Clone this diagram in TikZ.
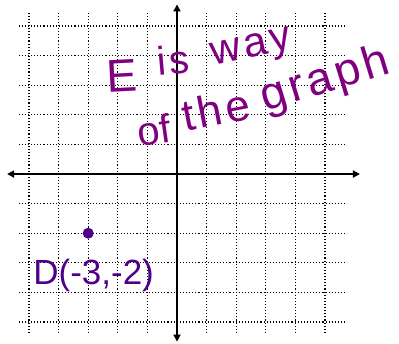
\documentclass[tikz,border=0pt]{standalone}
\usepackage{fontspec}
\setmainfont{Liberation Sans}
\usepackage{xcolor}
\usepackage{tikz}
\usetikzlibrary{arrows.meta}
\definecolor{tinta}{RGB}{128,0,128}
\definecolor{tintaD}{RGB}{78,0,138}
\newcommand{\letrasz}[1]{\fontsize{#1}{#1}\selectfont\addfontfeatures{LetterSpace=8}}
\tikzset{
  rejilla/.style={black,dotted,line width=1.1pt},
  ejes/.style={{Triangle[length=7pt,width=7pt]}-{Triangle[length=7pt,width=7pt]},line width=2.6pt},
  pt/.style={circle,fill=tintaD,inner sep=0pt,minimum size=11pt},
  letra/.style={tinta,inner sep=0pt,anchor=base west,font=\letrasz{44}}
}
\begin{document}
\begin{tikzpicture}[x=29.6pt,y=29.6pt]
\useasboundingbox (-5.98,-5.71) rectangle (7.5,5.88);
\foreach \i in {-5,...,5}{
  \draw[rejilla] (\i,-5.37)--(\i,5.44);
  \draw[rejilla] (-5.35,\i)--(5.7,\i);}
\coordinate (xizq) at (-5.74,0);
\coordinate (xder) at (6.18,0);
\coordinate (yaba) at (0,-5.66);
\coordinate (yarr) at (0,5.73);
\draw[ejes] (xizq)--(xder);
\draw[ejes] (yaba)--(yarr);
\node[pt] (puntoD) at (-3,-2) {};
\node[letra,tintaD,font=\fontsize{35}{42}\selectfont] (etiqD) at (-4.86,-3.73) {D(-3,-2)};
% palabras a mano
\node[letra,rotate=3,font=\letrasz{46}] (pE) at (-2.365,2.753) {E};
\node[letra,rotate=5,font=\letrasz{40}] (pis) at (-0.642,3.328) {is};
\node[letra,rotate=12,font=\letrasz{42}] (pway) at (1.216,3.666) {way};
\node[letra,rotate=8,font=\fontsize{40}{40}\selectfont] (pof) at (-1.284,0.929) {of};
\node[letra,rotate=11] (pthe) at (0.27,1.436) {the};
\node[letra,rotate=17,font=\letrasz{46}] (pgraph) at (2.973,2.111) {graph};
\end{tikzpicture}
\end{document}
